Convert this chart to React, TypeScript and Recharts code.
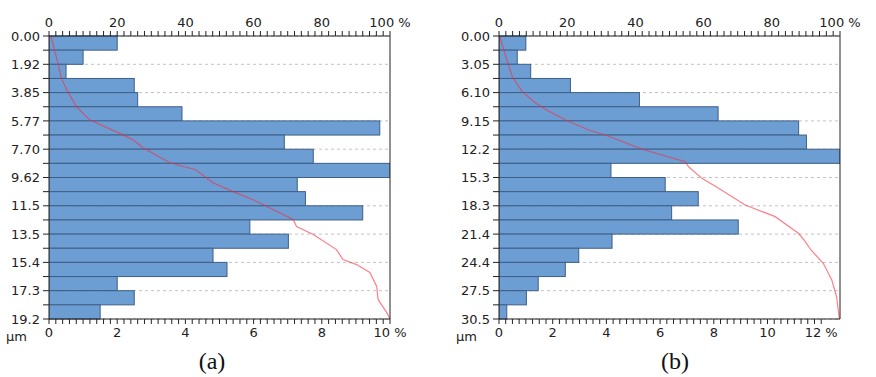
import { Bar, CartesianGrid, ComposedChart, Line, ReferenceLine, XAxis, YAxis } from "recharts";

// (a) frequency per size bin, % (bottom axis)
const barsA = [2.0, 1.0, 0.5, 2.5, 2.6, 3.9, 9.7, 6.9, 7.75, 10.0, 7.28, 7.52, 9.2, 5.89, 7.02, 4.81, 5.22, 2.0, 2.5, 1.5];
const sizeLabelsA = ["0.00", "1.92", "3.85", "5.77", "7.70", "9.62", "11.5", "13.5", "15.4", "17.3", "19.2"];
const pctLabelsA = [0, 2, 4, 6, 8, 10];
// (a) cumulative curve, µm -> % (top axis)
const cumSizeA = [0, 0.95, 1.83, 2.85, 3.8, 4.82, 5.7, 6.72, 7.06, 7.6, 8.62, 9.09, 9.98, 10.58, 11.13, 12.48, 12.96, 13.5, 14.52, 15.2, 15.54, 16.08, 17.03, 17.91, 18.79, 19.24];
const cumPctA = [0.6, 1.6, 2.6, 3.6, 5.5, 8.1, 11.9, 21.7, 24.6, 27.6, 35.4, 43.0, 48.1, 54.0, 59.9, 71.6, 72.6, 77.5, 84.3, 86.2, 90.2, 94.1, 96.1, 96.5, 99.0, 100];

// (b)
const barsB = [1.0, 0.68, 1.18, 2.66, 5.23, 8.16, 11.16, 11.45, 12.7, 4.17, 6.19, 7.42, 6.43, 8.91, 4.21, 2.97, 2.47, 1.46, 1.02, 0.29];
const sizeLabelsB = ["0.00", "3.05", "6.10", "9.15", "12.2", "15.3", "18.3", "21.4", "24.4", "27.5", "30.5"];
const pctLabelsB = [0, 2, 4, 6, 8, 10, 12];
const cumSizeB = [0, 2.23, 4.39, 6.0, 7.22, 7.98, 9.05, 10.13, 10.67, 12.21, 13.55, 14.09, 15.34, 16.41, 18.21, 19.47, 21.26, 21.99, 23.06, 24.5, 26.3, 28.1, 30.5];
const cumPctB = [0.2, 2.0, 3.9, 6.8, 10.7, 14.0, 19.5, 26.3, 31.2, 42.0, 54.6, 55.6, 59.5, 64.4, 72.2, 81.0, 87.8, 89.5, 91.5, 95.1, 97.6, 99.0, 99.8];

const cumLabels = [0, 20, 40, 60, 80, 100];

const INK = "#222";
const FONT = "DejaVu Sans, Verdana, sans-serif";
const PLOT_H = 283;
const TICK_LINE = { stroke: INK, strokeWidth: 1 };
const TICK_TEXT = { fontSize: 13, fontFamily: FONT, fill: INK };

function steps(max: number, step: number) {
  const n = Math.round(max / step);
  return Array.from({ length: n + 1 }, (_, i) => +(i * step).toFixed(4));
}

function Panel(props: any) {
  const { bars, sizeLabels, sizeMax, pctLabels, pctMax, pctStep, cumSize, cumPct, left, yWidth, caption, captionX } = props;
  const n = bars.length;
  const bins = bars.map((v: number, i: number) => ({ size: ((i + 0.5) * sizeMax) / n, v }));
  const curve = cumSize.map((s: number, i: number) => ({ size: s, c: cumPct[i] }));
  const sizeTicks = Array.from({ length: n + 1 }, (_, i) => (i * sizeMax) / n);
  const gridVals = sizeTicks.filter((_, i) => i % 2 === 0);
  const lastPct = pctLabels[pctLabels.length - 1];
  const binH = PLOT_H / n;

  // only the labelled ticks get text, the rest keep just their tick line
  const topFmt = (v: number) => (cumLabels.includes(v) ? (v === 100 ? "100 %" : String(v)) : "");
  const bottomFmt = (v: number) => (pctLabels.includes(v) ? (v === lastPct ? `${v} %` : String(v)) : "");
  const leftFmt = (_: number, i: number) => (i % 2 === 0 ? sizeLabels[i / 2] : "");

  // full-height bin rectangle centred on the scaled bin centre
  const BinRect = ({ x, y, width, height }: any) => {
    const cy = y + height / 2;
    return (
      <rect x={x} y={cy - binH / 2} width={Math.max(width, 0)} height={binH} fill="#6c9dd3" stroke="#3f5f86" strokeWidth={1} />
    );
  };

  return (
    <div style={{ position: "absolute", left, top: 0, width: 440, height: 377 }}>
      <ComposedChart
        layout="vertical"
        width={440}
        height={345}
        data={bins}
        margin={{ top: 0, right: 440 - yWidth - 341, bottom: 0, left: 0 }}
      >
        <CartesianGrid
          xAxisId="pct"
          horizontal
          vertical={false}
          horizontalValues={gridVals}
          stroke="#c2c2c2"
          strokeDasharray="3 3"
        />
        <XAxis
          xAxisId="cum"
          orientation="top"
          type="number"
          domain={[0, 100]}
          ticks={steps(100, 2)}
          interval={0}
          height={36}
          tickSize={5}
          tickMargin={4}
          tickLine={TICK_LINE}
          tick={TICK_TEXT}
          tickFormatter={topFmt}
          axisLine={{ stroke: INK }}
        />
        <XAxis
          xAxisId="pct"
          orientation="bottom"
          type="number"
          domain={[0, pctMax]}
          allowDataOverflow
          ticks={steps(Math.floor(pctMax), pctStep)}
          interval={0}
          height={26}
          tickSize={5}
          tickMargin={4}
          tickLine={TICK_LINE}
          tick={TICK_TEXT}
          tickFormatter={bottomFmt}
          axisLine={{ stroke: INK }}
        />
        <YAxis
          type="number"
          dataKey="size"
          domain={[0, sizeMax]}
          ticks={sizeTicks}
          interval={0}
          width={yWidth}
          tickSize={6}
          tickMargin={3}
          tickLine={TICK_LINE}
          tick={TICK_TEXT}
          tickFormatter={leftFmt}
          axisLine={{ stroke: INK }}
        />
        <Bar xAxisId="pct" dataKey="v" fill="#6c9dd3" shape={(p: any) => <BinRect {...p} />} isAnimationActive={false} />
        <Line
          xAxisId="cum"
          data={curve}
          dataKey="c"
          type="linear"
          stroke="#ff2a3c"
          strokeOpacity={0.6}
          strokeWidth={1.2}
          dot={false}
          activeDot={false}
          isAnimationActive={false}
        />
        <ReferenceLine xAxisId="pct" x={pctMax} stroke={INK} />
      </ComposedChart>
      <div
        style={{
          position: "absolute",
          left: yWidth - 43,
          top: 329,
          fontFamily: FONT,
          fontSize: 13,
          lineHeight: "15px",
          color: INK,
        }}
      >
        µm
      </div>
      <div
        style={{
          position: "absolute",
          left: captionX - 40,
          width: 80,
          top: 349,
          textAlign: "center",
          fontFamily: "Liberation Serif, Times New Roman, serif",
          fontSize: 24,
          lineHeight: "24px",
          color: "#111",
        }}
      >
        {caption}
      </div>
    </div>
  );
}

export default function App() {
  return (
    <div style={{ position: "absolute", left: 0, top: 0, width: 876, height: 377, background: "#fff" }}>
      <Panel
        bars={barsA}
        sizeLabels={sizeLabelsA}
        sizeMax={19.24}
        pctLabels={pctLabelsA}
        pctMax={10}
        pctStep={0.2}
        cumSize={cumSizeA}
        cumPct={cumPctA}
        left={0}
        yWidth={49}
        caption="(a)"
        captionX={212}
      />
      <Panel
        bars={barsB}
        sizeLabels={sizeLabelsB}
        sizeMax={30.5}
        pctLabels={pctLabelsB}
        pctMax={12.7}
        pctStep={0.25}
        cumSize={cumSizeB}
        cumPct={cumPctB}
        left={436}
        yWidth={63}
        caption="(b)"
        captionX={239}
      />
    </div>
  );
}
